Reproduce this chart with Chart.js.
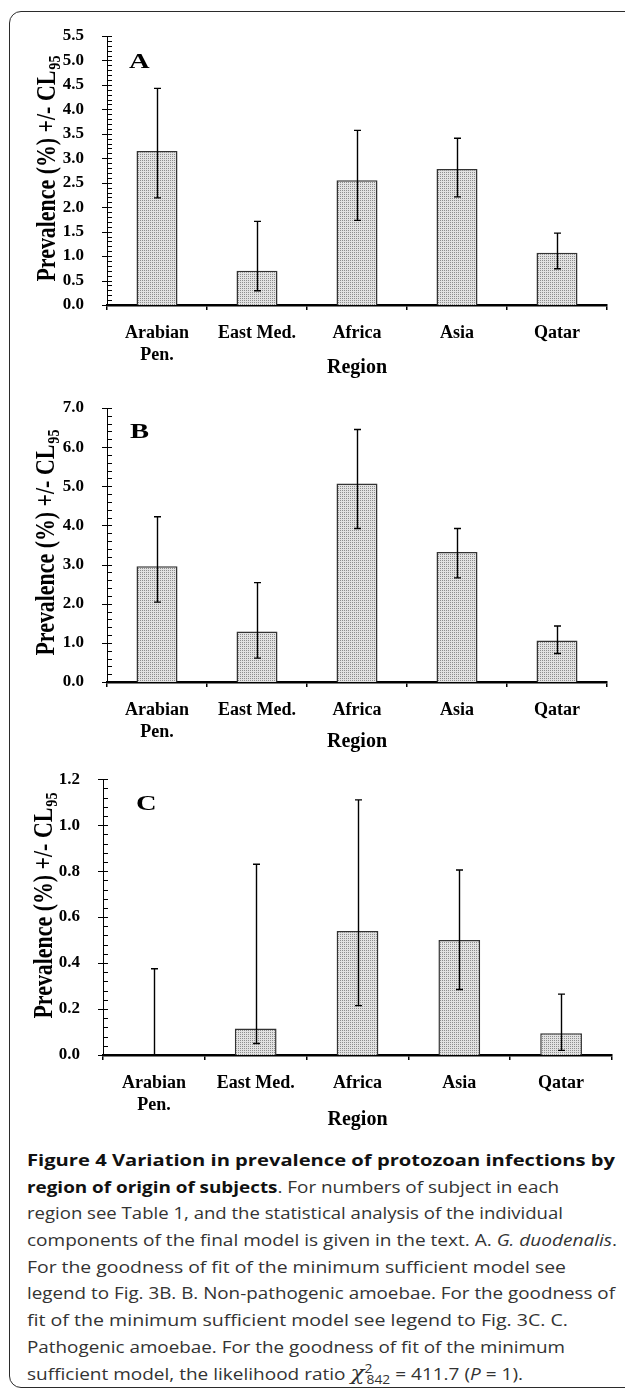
<!DOCTYPE html>
<html>
<head>
<meta charset="utf-8">
<title>Figure 4</title>
<script src="https://cdn.jsdelivr.net/npm/chart.js@4.4.0/dist/chart.umd.min.js"></script>
<style>
  html, body { margin: 0; padding: 0; background: #fff; }
  body { width: 625px; height: 1390px; position: relative; overflow: hidden; }
  .frame {
    position: absolute; left: 9px; top: 11px; width: 700px; height: 1377px;
    border: 1.5px solid #2b2b2b; border-radius: 12px; box-sizing: border-box;
  }
  canvas { position: absolute; left: 0; }
  #caption {
    position: absolute; left: 27px; top: 1147px;
    font-family: "Open Sans", "Noto Sans", sans-serif; font-size: 16.5px;
    color: #333; white-space: nowrap;
  }
  #caption div { height: 26.67px; line-height: 26.67px; }
  #caption .ln { display: inline-block; transform-origin: 0 50%; }
  #caption b { color: #111; font-weight: 700; }
  .chi { font-style: italic; font-size: 20px; font-family: "DejaVu Serif", serif; }
  .sp { font-size: 12px; position: relative; top: -7px; }
  .sb { font-size: 12px; position: relative; top: 4px; margin-left: -5px; }
</style>
</head>
<body>
<div class="frame"></div>
<canvas id="chartA"></canvas>
<canvas id="chartB"></canvas>
<canvas id="chartC"></canvas>
<div id="caption">
  <div><span class="ln"><b>Figure 4 Variation in prevalence of protozoan infections by</b></span></div>
  <div><span class="ln"><b>region of origin of subjects</b>. For numbers of subject in each</span></div>
  <div><span class="ln">region see Table 1, and the statistical analysis of the individual</span></div>
  <div><span class="ln">components of the final model is given in the text. A. <i>G. duodenalis</i>.</span></div>
  <div><span class="ln">For the goodness of fit of the minimum sufficient model see</span></div>
  <div><span class="ln">legend to Fig. 3B. B. Non-pathogenic amoebae. For the goodness of</span></div>
  <div><span class="ln">fit of the minimum sufficient model see legend to Fig. 3C. C.</span></div>
  <div><span class="ln">Pathogenic amoebae. For the goodness of fit of the minimum</span></div>
  <div><span class="ln">sufficient model, the likelihood ratio <span class="chi">χ</span><span class="sp">2</span><span class="sb">842</span> = 411.7 (<i>P</i> = 1).</span></div>
</div>
<script>
const regions = [["Arabian", "Pen."], "East Med.", "Africa", "Asia", "Qatar"];

// A. G. duodenalis
const prevA = [3.15, 0.70, 2.55, 2.78, 1.07];
const lowA = [2.19, 0.29, 1.73, 2.21, 0.74];
const highA = [4.43, 1.71, 3.57, 3.41, 1.47];
const yMaxA = 5.5, yStepA = 0.5, yMinorA = 0.1;

// B. non-pathogenic amoebae
const prevB = [2.96, 1.29, 5.07, 3.32, 1.06];
const lowB = [2.04, 0.61, 3.92, 2.66, 0.73];
const highB = [4.22, 2.54, 6.45, 3.92, 1.43];
const yMaxB = 7.0, yStepB = 1.0, yMinorB = 0.2;

// C. pathogenic amoebae
const prevC = [0.0, 0.115, 0.54, 0.50, 0.095];
const lowC = [0.0, 0.05, 0.215, 0.285, 0.02];
const highC = [0.375, 0.83, 1.11, 0.805, 0.265];
const yMaxC = 1.2, yStepC = 0.2, yMinorC = 0.04;

const yTitle = "Prevalence (%) +/- CL";
const yTitleSub = "95";
const xTitle = "Region";

const serif = "\"Liberation Serif\", \"Times New Roman\", serif";

// stipple fill like the original bars
function stipple() {
  const c = document.createElement("canvas");
  c.width = 2; c.height = 2;
  const g = c.getContext("2d");
  g.fillStyle = "#e2e2e2";
  g.fillRect(0, 0, 2, 2);
  g.fillStyle = "#8e8e8e";
  g.fillRect(0, 0, 1, 1);
  return g.createPattern(c, "repeat");
}

function makePanel(p, values, lows, highs, yMax, yStep, yMinor) {
  const canvas = document.getElementById(p.id);
  canvas.width = 625;
  canvas.height = p.height;
  canvas.style.top = p.top + "px";
  const axisY = p.axisY - p.top;
  const xHeight = p.height - axisY;

  const deco = {
    id: "deco" + p.letter,
    afterDatasetsDraw(chart) {
      const {ctx, scales: {y}} = chart;
      const meta = chart.getDatasetMeta(0);
      ctx.save();
      ctx.strokeStyle = "#000";
      ctx.lineWidth = 1.4;
      meta.data.forEach((bar, i) => {
        const cx = Math.round(bar.x) + 0.5;
        const yLo = y.getPixelForValue(lows[i]);
        const yHi = y.getPixelForValue(highs[i]);
        ctx.beginPath();
        ctx.moveTo(cx, yLo);
        ctx.lineTo(cx, yHi);
        ctx.moveTo(cx - 3.5, yHi);
        ctx.lineTo(cx + 3.5, yHi);
        ctx.moveTo(cx - 3.5, yLo);
        ctx.lineTo(cx + 3.5, yLo);
        ctx.stroke();
      });
      ctx.restore();
    },
    afterDraw(chart) {
      const {ctx, scales: {y}, chartArea} = chart;
      const ax = chartArea.left;
      ctx.save();
      ctx.strokeStyle = "#000";
      ctx.lineWidth = 1;
      const n = Math.round(yMax / yMinor);
      const per = Math.round(yStep / yMinor);
      for (let i = 0; i <= n; i++) {
        const py = Math.round(y.getPixelForValue(i * yMinor)) + 0.5;
        ctx.beginPath();
        ctx.moveTo(i % per === 0 ? ax - 5 : ax, py);
        ctx.lineTo(ax + 5, py);
        ctx.stroke();
      }

      // rotated axis title with subscript
      ctx.fillStyle = "#000";
      ctx.translate(p.titleX, p.titleY - p.top);
      ctx.rotate(-Math.PI / 2);
      ctx.font = "bold 20px " + serif;
      const wMain = ctx.measureText(yTitle).width;
      ctx.font = "bold 13px " + serif;
      const wSub = ctx.measureText(yTitleSub).width;
      const total = wMain + wSub;
      ctx.scale(225 / total, 1.36);
      ctx.textBaseline = "alphabetic";
      ctx.font = "bold 20px " + serif;
      ctx.fillText(yTitle, -total / 2, 0);
      ctx.font = "bold 13px " + serif;
      ctx.fillText(yTitleSub, -total / 2 + wMain + 1, 4);
      ctx.restore();

      // panel letter
      ctx.save();
      ctx.fillStyle = "#000";
      ctx.font = "bold 21px " + serif;
      ctx.translate(p.letterX, p.letterY - p.top);
      ctx.scale(1.36, 1);
      ctx.fillText(p.letter, 0, 0);
      ctx.restore();
    }
  };

  return new Chart(canvas, {
    type: "bar",
    data: {
      labels: regions,
      datasets: [{
        data: values,
        backgroundColor: stipple(),
        borderColor: "#333",
        borderWidth: 1.5,
        barPercentage: 0.41,
        categoryPercentage: 1.0,
      }],
    },
    options: {
      responsive: false,
      animation: false,
      devicePixelRatio: 1,
      layout: {
        padding: {top: p.plotTop - p.top, right: 625 - p.right, bottom: 0, left: 0},
      },
      plugins: {
        legend: {display: false},
        tooltip: {enabled: false},
      },
      scales: {
        x: {
          grid: {
            display: true, drawOnChartArea: false, drawTicks: true,
            tickLength: 5, color: "#000", lineWidth: 1.5,
          },
          border: {display: true, color: "#000", width: 2.5},
          ticks: {
            color: "#000", autoSkip: false, maxRotation: 0,
            padding: p.labelTop - p.axisY - 5,
            font: {family: serif, weight: "bold", size: 18, lineHeight: 1.25},
          },
          title: {
            display: true, text: xTitle, color: "#000",
            padding: {top: 0, bottom: 0},
            font: {family: serif, weight: "bold", size: 20, lineHeight: 1.2},
          },
          afterFit(scale) {
            scale.height = xHeight;
          },
        },
        y: {
          min: 0,
          max: yMax,
          grid: {display: false},
          border: {display: true, color: "#000", width: 1},
          ticks: {
            stepSize: yStep, color: "#000", padding: 15,
            font: {family: serif, weight: "bold", size: 17},
            callback: (v) => Number(v).toFixed(1),
          },
          afterFit(scale) {
            scale.width = p.left;
          },
        },
      },
    },
    plugins: [deco],
  });
}

makePanel({id: "chartA", letter: "A", top: 0, height: 380, plotTop: 36, axisY: 305,
  left: 107, right: 607, labelTop: 321.75, titleX: 55, titleY: 169, letterX: 129, letterY: 67.5},
prevA, lowA, highA, yMaxA, yStepA, yMinorA);

makePanel({id: "chartB", letter: "B", top: 380, height: 374, plotTop: 408, axisY: 682,
  left: 107, right: 607, labelTop: 698.75, titleX: 54, titleY: 543, letterX: 130, letterY: 438},
prevB, lowB, highB, yMaxB, yStepB, yMinorB);

makePanel({id: "chartC", letter: "C", top: 754, height: 378, plotTop: 776, axisY: 1055,
  left: 103, right: 612, labelTop: 1071.75, titleX: 52, titleY: 906, letterX: 136, letterY: 810},
prevC, lowC, highC, yMaxC, yStepC, yMinorC);

// each caption line is fitted to the width it has in the original
const lineWidths = [588, 532, 536, 590, 539, 588, 541, 538, 496];
document.querySelectorAll("#caption .ln").forEach((el, i) => {
  const w = el.getBoundingClientRect().width;
  el.style.transform = "scaleX(" + (lineWidths[i] / w) + ")";
});
</script>
</body>
</html>
